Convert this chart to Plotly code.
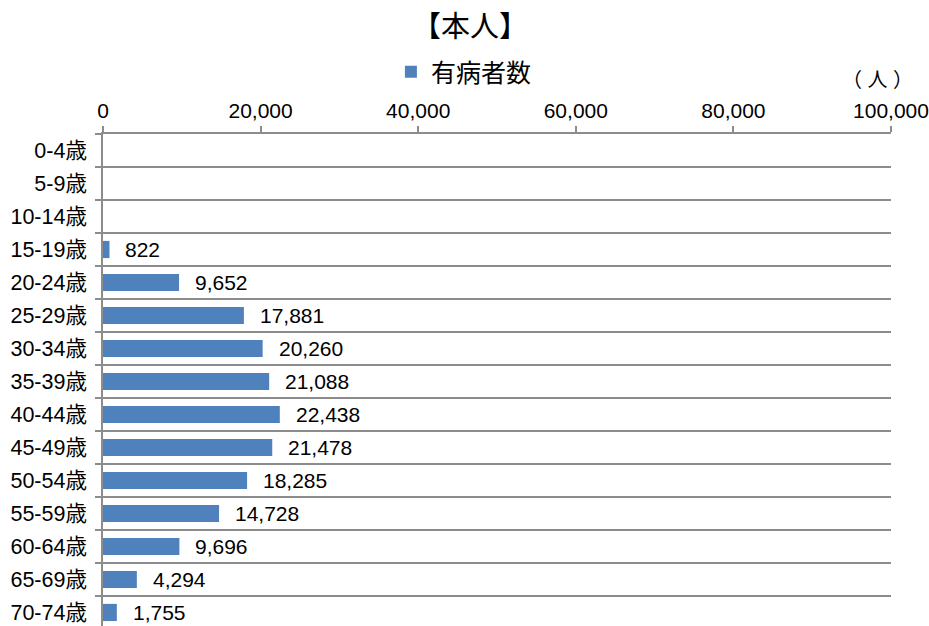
import plotly.graph_objects as go

# Age groups and number of patients (people)
age_groups = ["0-4歳", "5-9歳", "10-14歳", "15-19歳", "20-24歳", "25-29歳", "30-34歳",
              "35-39歳", "40-44歳", "45-49歳", "50-54歳", "55-59歳", "60-64歳",
              "65-69歳", "70-74歳"]
patients = [None, None, None, 822, 9652, 17881, 20260, 21088, 22438, 21478,
            18285, 14728, 9696, 4294, 1755]
x_ticks = [0, 20000, 40000, 60000, 80000, 100000]

FONT = "Liberation Sans, Arial, Noto Sans CJK JP, sans-serif"
GRID = "#8c8c8c"

fig = go.Figure()
fig.add_trace(go.Bar(
    y=age_groups, x=patients, orientation="h", name="有病者数",
    marker=dict(color="#4F81BD", line=dict(width=0)),
    width=0.52,
))

# value labels to the right of each bar
for cat, v in zip(age_groups, patients):
    if v is None:
        continue
    fig.add_annotation(x=v, y=cat, text=f"{v:,}", showarrow=False,
                       xanchor="left", xshift=14,
                       font=dict(size=21, color="#000000", family=FONT))

# unit label
fig.add_annotation(x=1.03, y=1.11, xref="paper", yref="paper",
                   text="（ 人 ）", showarrow=False, xanchor="right", yanchor="middle",
                   font=dict(size=20, color="#000000", family=FONT))

fig.update_layout(
    width=929, height=626,
    margin=dict(l=103, r=36, t=134, b=0),
    paper_bgcolor="white", plot_bgcolor="white",
    font=dict(family=FONT, color="#000000"),
    title=dict(text="【本人】", x=470 / 929, xanchor="center",
               y=1 - 27 / 626, yanchor="middle", yref="container",
               font=dict(size=29, color="#000000", family=FONT)),
    showlegend=True,
    legend=dict(orientation="h", x=0.458, xanchor="center",
                y=1 - 72 / 626, yref="container", yanchor="middle",
                font=dict(size=25, color="#000000", family=FONT),
                itemwidth=30),
    xaxis=dict(side="top", range=[0, 100000], tickvals=x_ticks,
               tickformat=",", showgrid=False, zeroline=False,
               showline=True, linecolor=GRID, linewidth=1.5,
               ticks="outside", ticklen=6, tickcolor=GRID, tickwidth=1.5,
               ticklabeloverflow="allow",
               tickfont=dict(size=21, color="#000000", family=FONT)),
    yaxis=dict(type="category", categoryorder="array", categoryarray=age_groups,
               range=[14.41, -0.5], tickson="boundaries",
               showgrid=True, gridcolor=GRID, gridwidth=1.5,
               showline=True, linecolor=GRID, linewidth=1.5,
               ticks="outside", ticklen=6, tickcolor=GRID, tickwidth=1.5,
               ticklabelstandoff=10,
               tickfont=dict(size=21.5, color="#000000", family=FONT)),
)

fig.write_html("out.html")
